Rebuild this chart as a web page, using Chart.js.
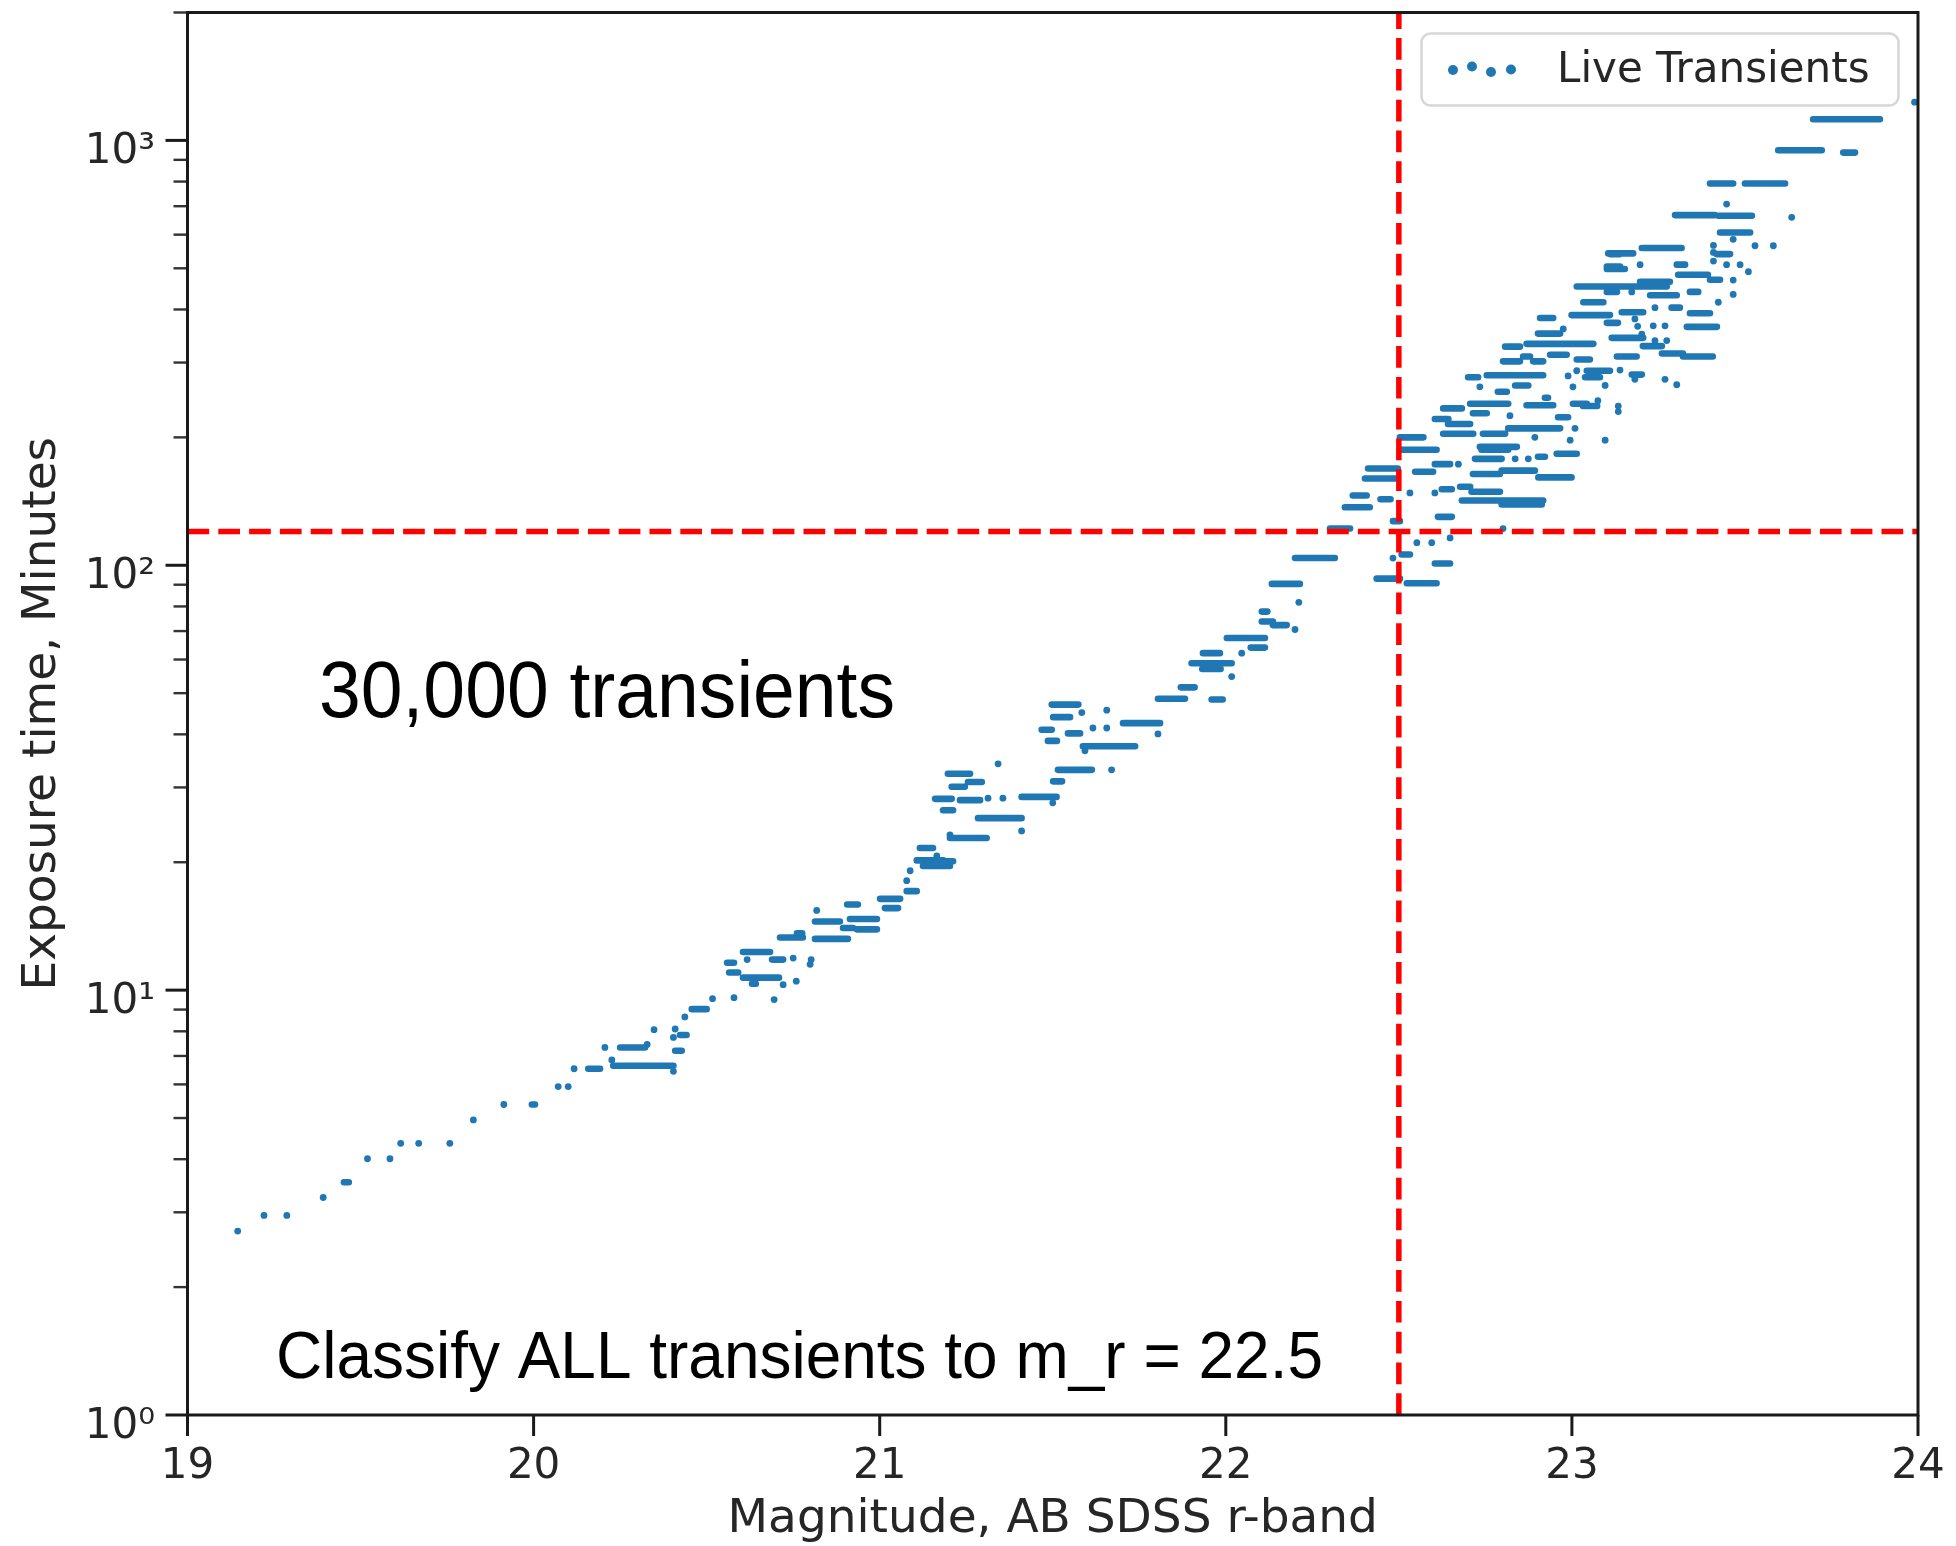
<!DOCTYPE html>
<html><head><meta charset="utf-8">
<script src="https://cdn.jsdelivr.net/npm/chart.js@4.4.1/dist/chart.umd.min.js"></script>
<style>html,body{margin:0;padding:0;background:#fff;}#wrap{width:1956px;height:1546px;}</style>
</head><body><div id="wrap"><canvas id="c" width="1956" height="1546"></canvas></div>
<script>
// ---- axes ----
const xTickValues = [19, 20, 21, 22, 23, 24];
const yTickValues = [1,2,3,4,5,6,7,8,9,10,20,30,40,50,60,70,80,90,100,200,300,400,500,600,700,800,900,1000,2000];
const yTickLabels = {1: '10⁰', 10: '10¹', 100: '10²', 1000: '10³'};
const xRange = [19, 24];
const yRange = [1, 2000];
const thresholdMag = 22.5;
const thresholdMinutes = 120;

// ---- horizontal runs of overlapping points (magnitude start, magnitude end, minutes) ----
const segStart = [19.452,19.995,20.158,20.250,20.230,20.409,20.423,20.457,20.605,20.559,20.689,20.565,20.605,20.631,20.712,20.761,20.813,20.813,20.914,20.894,20.934,20.906,21.001,21.015,21.078,21.107,21.125,21.183,21.116,21.203,21.284,21.183,21.160,21.232,21.208,21.255,21.197,21.410,21.501,21.515,21.587,21.468,21.486,21.544,21.501,21.497,21.703,21.804,21.959,21.870,21.932,21.901,21.934,22.003,22.072,22.104,22.104,22.136,22.133,22.200,22.301,22.344,22.367,22.447,22.402,22.411,22.483,22.508,22.436,22.523,22.604,22.624,22.613,22.682,22.797,22.677,22.710,22.503,22.503,22.547,22.604,22.714,22.797,22.903,22.720,22.902,22.956,22.734,22.739,22.628,22.743,22.816,22.604,22.642,22.628,22.706,22.714,22.869,22.922,22.960,23.003,22.700,22.754,22.786,22.836,22.801,22.859,22.888,22.807,22.869,22.937,23.014,23.043,23.038,23.032,22.902,22.908,22.999,23.101,23.033,23.014,23.101,23.110,23.697,23.596,23.784,23.399,23.500,23.298,23.423,23.428,23.418,23.105,23.202,23.101,23.303,23.307,23.399,23.197,23.101,23.226,23.341,23.288,23.341,23.144,23.332,23.115,23.205,23.260,23.321,23.130,23.173];
const segEnd   = [19.466,20.004,20.192,20.322,20.404,20.428,20.442,20.500,20.683,20.579,20.721,20.591,20.709,20.642,20.778,20.776,20.908,20.885,20.992,20.923,20.992,20.937,21.059,21.053,21.107,21.184,21.203,21.212,21.154,21.309,21.410,21.212,21.208,21.290,21.246,21.295,21.261,21.511,21.527,21.613,21.738,21.497,21.512,21.579,21.550,21.574,21.810,21.882,21.991,21.910,21.985,22.017,21.983,22.113,22.113,22.136,22.120,22.176,22.214,22.315,22.359,22.416,22.407,22.476,22.497,22.497,22.503,22.532,22.503,22.609,22.648,22.653,22.653,22.917,22.913,22.706,22.792,22.571,22.609,22.599,22.648,22.792,22.893,22.999,22.797,22.922,23.014,22.841,22.816,22.715,22.807,22.966,22.643,22.706,22.682,22.816,22.754,22.946,22.931,22.989,23.043,22.729,22.917,22.812,22.874,22.850,22.879,22.917,22.850,23.062,22.985,23.052,23.110,23.081,23.073,22.966,22.946,23.110,23.133,23.091,23.274,23.139,23.139,23.890,23.722,23.818,23.466,23.616,23.413,23.520,23.515,23.457,23.177,23.317,23.153,23.327,23.393,23.428,23.283,23.130,23.303,23.365,23.312,23.399,23.206,23.419,23.206,23.260,23.321,23.407,23.187,23.202];
const segMinutes = [3.53,5.38,6.53,7.33,6.64,7.2,7.84,9.02,12.3,11.6,11.8,11.0,10.7,10.35,13.3,13.6,13.2,14.5,14.7,14.0,13.9,15.9,16.4,15.6,17.1,20.2,19.6,20.1,21.6,22.8,25.4,26.5,28.2,28.0,30.1,30.9,32.3,28.5,31.0,33.0,37.5,41.0,38.6,40.2,43.9,47.0,42.5,48.5,48.3,51.6,57.0,58.8,62.1,67.4,64.0,73.7,77.8,72.3,90.4,104,122,137,146,143,160,169,127,106,93,90.7,101,151,130,142,139,153,149,200,187,166,173,164,167,161,178,180,183,190,187,204,204,210,221,215,234,240,228,238,248,223,240,277,280,256,265,302,310,302,327,332,313,305,287,277,237,351,382,388,372,416,453,505,540,1121,948,936,792,792,667,665,607,540,542,558,498,510,483,470,465,440,432,440,404,392,394,364,343,328,315,310,310,281];

// ---- isolated points (magnitude, minutes) ----
const dotMag = [19.145,19.221,19.287,19.392,19.520,19.585,19.616,19.668,19.758,19.826,19.914,20.071,20.100,20.117,20.206,20.328,20.226,20.404,20.404,20.409,20.348,20.437,20.517,20.579,20.695,20.617,20.750,20.799,20.802,20.721,20.759,20.818,21.078,21.088,21.165,21.203,21.410,21.313,21.356,21.342,21.500,21.670,21.593,21.616,21.656,21.584,21.656,21.804,22.017,22.046,22.200,22.211,22.483,22.552,22.595,22.648,22.801,22.532,22.604,22.672,22.836,22.874,22.893,22.995,23.009,23.096,22.821,23.075,22.734,23.003,22.989,23.014,23.096,22.975,23.990,23.447,23.635,23.466,23.529,23.582,23.409,23.409,23.409,23.447,23.486,23.510,23.466,23.466,23.197,23.173,23.240,23.423,23.182,23.190,23.202,23.235,23.269,23.240,23.274,23.139,23.269,23.303,23.182,23.134,23.134];
const dotMinutes = [2.71,2.95,2.95,3.25,4.01,4.01,4.36,4.36,4.36,4.95,5.38,5.93,5.93,6.53,7.33,7.45,6.85,6.44,7.74,8.1,8.07,8.65,9.55,9.6,9.5,11.8,11.9,11.5,11.8,10.3,10.5,15.4,18.1,19.1,20.7,23.2,23.7,28.3,28.3,34.1,27.6,33.0,36.6,41.4,41.4,45.0,45.6,40.1,54.7,62.1,70.6,81.8,104,113,113,116,122,148,148,173,178,178,200,197,210,197,225,244,263,263,279,287,265,360,1230,708,659,585,565,565,566,545,520,510,510,491,469,434,510,440,404,416,380,365,350,366,366,338,338,288,274,266,274,237,230];

const BLUE = '#1f77b4';
const INK = '#262626';

const segData = [];
for (let i = 0; i < segStart.length; i++) {
  segData.push({x: segStart[i], y: segMinutes[i]}, {x: segEnd[i], y: segMinutes[i]}, {x: segEnd[i], y: null});
}
const dotData = dotMag.map((m, i) => ({x: m, y: dotMinutes[i]}));

const framePlugin = {
  id: 'frame',
  afterDraw(chart) {
    const {ctx, chartArea: a, scales: {x, y}} = chart;
    ctx.save();
    ctx.lineCap = 'butt';
    // y ticks
    yTickValues.forEach(v => {
      const py = y.getPixelForValue(v);
      const major = yTickLabels[v] !== undefined;
      ctx.lineWidth = major ? 3 : 2.4;
      ctx.strokeStyle = major ? '#1a1a1a' : '#333';
      ctx.beginPath();
      ctx.moveTo(a.left - (major ? 22 : 14), py);
      ctx.lineTo(a.left, py);
      ctx.stroke();
    });
    // x ticks
    ctx.strokeStyle = '#1a1a1a';
    ctx.lineWidth = 3;
    xTickValues.forEach(v => {
      const px = x.getPixelForValue(v);
      ctx.beginPath();
      ctx.moveTo(px, a.bottom);
      ctx.lineTo(px, a.bottom + 21);
      ctx.stroke();
    });
    // frame
    ctx.lineWidth = 3;
    ctx.strokeRect(a.left, a.top, a.right - a.left, a.bottom - a.top);

    // legend
    ctx.beginPath();
    ctx.roundRect(1421.5, 33.5, 477, 72, 9);
    ctx.fillStyle = 'rgba(255,255,255,0.85)';
    ctx.fill();
    ctx.strokeStyle = '#d6d6d6';
    ctx.lineWidth = 2.5;
    ctx.stroke();
    ctx.fillStyle = BLUE;
    [[1453, 70], [1472, 66.5], [1491, 72], [1511, 69.5]].forEach(([dx, dy]) => {
      ctx.beginPath(); ctx.arc(dx, dy, 5, 0, Math.PI * 2); ctx.fill();
    });
    ctx.fillStyle = INK;
    ctx.font = '42px "DejaVu Sans"';
    ctx.textBaseline = 'alphabetic';
    ctx.textAlign = 'left';
    ctx.fillText('Live Transients', 1557, 82);

    // annotations
    ctx.fillStyle = '#000';
    ctx.font = '79px "Liberation Sans"';
    ctx.fillText('30,000 transients', 319, 717, 576);
    ctx.font = '66px "Liberation Sans"';
    ctx.fillText('Classify ALL transients to m_r = 22.5', 276, 1378, 1047);
    ctx.restore();
  }
};

new Chart(document.getElementById('c'), {
  type: 'scatter',
  data: {
    datasets: [
      {label: 'vline', data: [{x: thresholdMag, y: yRange[0]}, {x: thresholdMag, y: yRange[1]}], showLine: true,
       borderColor: '#ff0000', borderWidth: 5.5, borderDash: [21.7, 9.1], pointRadius: 0, fill: false},
      {label: 'hline', data: [{x: xRange[0], y: thresholdMinutes}, {x: xRange[1], y: thresholdMinutes}], showLine: true,
       borderColor: '#ff0000', borderWidth: 5.5, borderDash: [21.7, 9.1], pointRadius: 0, fill: false},
      {label: 'Live Transients runs', data: segData, showLine: true, spanGaps: false,
       borderColor: BLUE, borderWidth: 6.6, borderCapStyle: 'round', pointRadius: 0, fill: false},
      {label: 'Live Transients', data: dotData, showLine: false,
       backgroundColor: BLUE, borderWidth: 0, pointRadius: 3.4}
    ]
  },
  options: {
    responsive: false,
    animation: false,
    devicePixelRatio: 1,
    layout: {padding: {left: 0, right: 38, top: 12.5, bottom: 0}},
    plugins: {legend: {display: false}, tooltip: {enabled: false}},
    scales: {
      x: {
        type: 'linear', min: xRange[0], max: xRange[1],
        afterBuildTicks: s => { s.ticks = xTickValues.map(v => ({value: v})); },
        afterFit: s => { s.height = 131; s.paddingLeft = 0; s.paddingRight = 0; },
        grid: {display: false, drawTicks: false},
        border: {display: false},
        ticks: {padding: 27.3, autoSkip: false, maxRotation: 0, color: INK,
                font: {family: 'DejaVu Sans', size: 42, lineHeight: 1.2},
                callback: v => String(v)},
        title: {display: true, text: 'Magnitude, AB SDSS r-band', color: INK,
                font: {family: 'DejaVu Sans', size: 47, lineHeight: 1.1}, padding: {top: 0, bottom: 0}}
      },
      y: {
        type: 'logarithmic', min: yRange[0], max: yRange[1],
        afterBuildTicks: s => { s.ticks = yTickValues.map(v => ({value: v})); },
        afterFit: s => { s.width = 187.5; s.paddingTop = 0; s.paddingBottom = 0; },
        grid: {display: false, drawTicks: false},
        border: {display: false},
        ticks: {padding: 32.5, autoSkip: false, labelOffset: 12, color: INK,
                font: {family: 'DejaVu Sans', size: 42, lineHeight: 1.2},
                major: {enabled: false},
                callback: v => yTickLabels[v] || ''},
        title: {display: true, text: 'Exposure time, Minutes', color: INK,
                font: {family: 'DejaVu Sans', size: 47, lineHeight: 1.1}, padding: {top: 17, bottom: 0}}
      }
    }
  },
  plugins: [framePlugin]
});
</script></body></html>
